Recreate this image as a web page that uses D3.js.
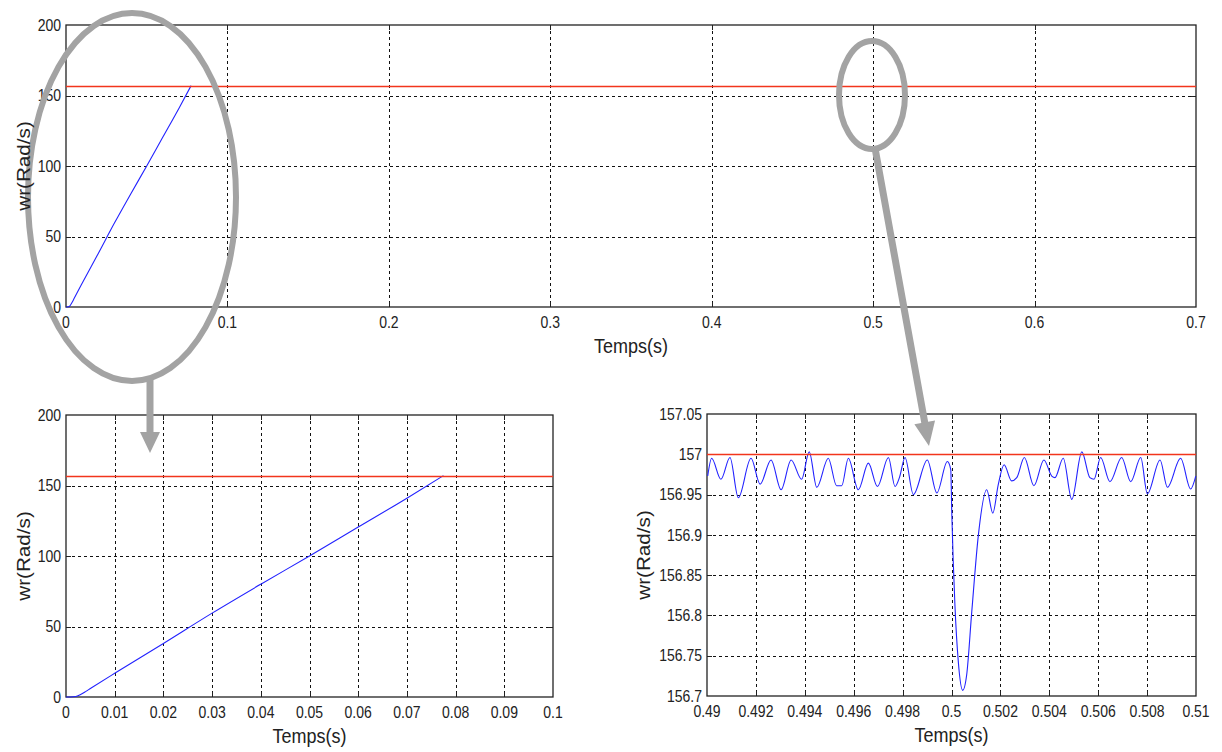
<!DOCTYPE html>
<html>
<head>
<meta charset="utf-8">
<script src="https://cdn.jsdelivr.net/npm/d3@7"></script>
<style>
  html, body { margin: 0; padding: 0; background: #fff; }
  svg { display: block; font-family: "Liberation Sans", Arial, sans-serif; }
</style>
</head>
<body>
<svg id="chart" width="1222" height="752"></svg>
<script>
// ---------- DATA ----------
const refSpeed = 157;

// start-up of the speed (s, rad/s)
const startT = [0, 0.001, 0.002, 0.003, 0.004, 0.005, 0.01, 0.02, 0.03, 0.04, 0.05, 0.06, 0.07, 0.0775];
const startW = [0, 0, 0.3, 1.8, 3.8, 6, 16.8, 38, 59.5, 80, 100, 120.5, 141, 157];

// zoom around t = 0.5 s (s, rad/s)
const zoomT = [0.49003, 0.49019, 0.49057, 0.49094, 0.49128, 0.4918, 0.49217, 0.49262, 0.49303, 0.49344,
  0.49387, 0.49418, 0.49449, 0.49496, 0.4953, 0.49551, 0.49578, 0.49619, 0.4966, 0.49697,
  0.49742, 0.49769, 0.49787, 0.4981, 0.49844, 0.49901, 0.4994, 0.49983, 0.49997,
  0.50001, 0.50014, 0.50028, 0.50046, 0.50062, 0.50083, 0.5011, 0.50144, 0.50169, 0.50191,
  0.50215, 0.50246, 0.50267, 0.50298, 0.50337, 0.50378, 0.5041, 0.50423, 0.50457, 0.50492,
  0.50533, 0.50566, 0.50583, 0.5061, 0.50648, 0.50696, 0.50733, 0.50774, 0.50801, 0.50853,
  0.50883, 0.50937, 0.50978, 0.50999];
const zoomW = [156.973, 156.995, 156.969, 156.996, 156.946, 156.995, 156.963, 156.993, 156.956, 156.993,
  156.969, 157.003, 156.959, 156.995, 156.961, 156.961, 156.995, 156.956, 156.989, 156.960,
  156.996, 156.960, 156.971, 156.996, 156.950, 156.993, 156.952, 156.991, 156.981,
  156.929, 156.813, 156.742, 156.707, 156.726, 156.805, 156.900, 156.956, 156.927, 156.962,
  156.987, 156.967, 156.971, 156.996, 156.961, 156.993, 156.973, 156.971, 156.995, 156.944,
  157.003, 156.971, 156.969, 156.996, 156.966, 156.996, 156.966, 156.996, 156.951, 156.993,
  156.959, 156.995, 156.957, 156.973];

// tick values and labels
const topXTicks = [0, 0.1, 0.2, 0.3, 0.4, 0.5, 0.6, 0.7];
const topXLabels = ["0", "0.1", "0.2", "0.3", "0.4", "0.5", "0.6", "0.7"];
const speedYTicks = [0, 50, 100, 150, 200];
const speedYLabels = ["0", "50", "100", "150", "200"];
const blXTicks = [0, 0.01, 0.02, 0.03, 0.04, 0.05, 0.06, 0.07, 0.08, 0.09, 0.1];
const blXLabels = ["0", "0.01", "0.02", "0.03", "0.04", "0.05", "0.06", "0.07", "0.08", "0.09", "0.1"];
const brXTicks = [0.49, 0.492, 0.494, 0.496, 0.498, 0.5, 0.502, 0.504, 0.506, 0.508, 0.51];
const brXLabels = ["0.49", "0.492", "0.494", "0.496", "0.498", "0.5", "0.502", "0.504", "0.506", "0.508", "0.51"];
const brYTicks = [156.7, 156.75, 156.8, 156.85, 156.9, 156.95, 157, 157.05];
const brYLabels = ["156.7", "156.75", "156.8", "156.85", "156.9", "156.95", "157", "157.05"];

const xTitle = "Temps(s)";
const yTitle = "wr(Rad/s)";

// ---------- DRAW ----------
const svg = d3.select("#chart");
const BLUE = "#2222ff", RED = "#f2351c", INK = "#222";
const SY = 1.15; // vertical stretch of the lettering in the original figure
const titleLayer = [];

function panel(o) {
  const x = d3.scaleLinear().domain(o.xDomain).range([o.left, o.right]);
  const y = d3.scaleLinear().domain(o.yDomain).range([o.bottom, o.top]);
  const g = svg.append("g");

  // grid
  const xg = o.xTicks.slice(1, -1), yg = o.yTicks.slice(1, -1);
  g.selectAll(null).data(xg).join("line")
    .attr("x1", d => Math.round(x(d)) + 0.5).attr("x2", d => Math.round(x(d)) + 0.5)
    .attr("y1", o.top).attr("y2", o.bottom)
    .attr("stroke", "#111").attr("stroke-width", 1).attr("stroke-dasharray", "3,3");
  g.selectAll(null).data(yg).join("line")
    .attr("y1", d => Math.round(y(d)) + 0.5).attr("y2", d => Math.round(y(d)) + 0.5)
    .attr("x1", o.left).attr("x2", o.right)
    .attr("stroke", "#111").attr("stroke-width", 1).attr("stroke-dasharray", "3,3");

  // inner ticks
  const tk = 5;
  g.selectAll(null).data(xg).join("path")
    .attr("d", d => `M${Math.round(x(d)) + 0.5},${o.bottom}v${-tk}M${Math.round(x(d)) + 0.5},${o.top}v${tk}`)
    .attr("stroke", INK);
  g.selectAll(null).data(yg).join("path")
    .attr("d", d => `M${o.left},${Math.round(y(d)) + 0.5}h${tk}M${o.right},${Math.round(y(d)) + 0.5}h${-tk}`)
    .attr("stroke", INK);

  // frame
  g.append("rect")
    .attr("x", o.left).attr("y", o.top)
    .attr("width", o.right - o.left).attr("height", o.bottom - o.top)
    .attr("fill", "none").attr("stroke", INK).attr("stroke-width", 1.3);

  // series
  const line = d3.line().x(d => x(d[0])).y(d => y(d[1])).curve(d3.curveMonotoneX);
  g.append("path").datum(o.xs.map((t, i) => [t, o.ys[i]]))
    .attr("d", line).attr("fill", "none").attr("stroke", BLUE).attr("stroke-width", 1.1);

  // reference
  const yr = Math.round(y(refSpeed)) + 0.5;
  g.append("line")
    .attr("x1", o.left).attr("x2", o.right)
    .attr("y1", yr).attr("y2", yr)
    .attr("stroke", RED).attr("stroke-width", 1.6);

  // tick labels
  g.selectAll(null).data(o.xTicks).join("text")
    .attr("transform", d => `translate(${x(d)},${o.bottom + 21}) scale(1,${SY})`)
    .attr("text-anchor", "middle").attr("font-size", 14).attr("fill", INK)
    .text((d, i) => o.xLabels[i]);
  g.selectAll(null).data(o.yTicks).join("text")
    .attr("transform", d => `translate(${o.left - 5},${y(d) + 5.7}) scale(1,${SY})`)
    .attr("text-anchor", "end").attr("font-size", 14).attr("fill", INK)
    .text((d, i) => o.yLabels[i]);

  // titles (drawn later, above the callouts)
  titleLayer.push(o);
  o.cx = (o.left + o.right) / 2;
}

panel({ left: 66, right: 1196, top: 25, bottom: 307, xDomain: [0, 0.7], yDomain: [0, 200],
  xTicks: topXTicks, xLabels: topXLabels, yTicks: speedYTicks, yLabels: speedYLabels,
  xs: startT, ys: startW, yTitleX: 30 });
panel({ left: 66, right: 553, top: 415, bottom: 697, xDomain: [0, 0.1], yDomain: [0, 200],
  xTicks: blXTicks, xLabels: blXLabels, yTicks: speedYTicks, yLabels: speedYLabels,
  xs: startT, ys: startW, yTitleX: 30 });
panel({ left: 707, right: 1196, top: 414, bottom: 696, xDomain: [0.49, 0.51], yDomain: [156.7, 157.05],
  xTicks: brXTicks, xLabels: brXLabels, yTicks: brYTicks, yLabels: brYLabels,
  xs: zoomT, ys: zoomW, yTitleX: 650 });

// ---------- ANNOTATIONS (zoom callouts) ----------
const GREY = "#a3a3a3";
const ann = svg.append("g");
ann.append("ellipse").attr("cx", 132).attr("cy", 197).attr("rx", 104).attr("ry", 184)
  .attr("fill", "none").attr("stroke", GREY).attr("stroke-width", 6);
ann.append("ellipse").attr("cx", 872).attr("cy", 95).attr("rx", 33).attr("ry", 54)
  .attr("fill", "none").attr("stroke", GREY).attr("stroke-width", 6);

function arrow(x1, y1, x2, y2, shaftW, headL, headW) {
  const dx = x2 - x1, dy = y2 - y1, L = Math.hypot(dx, dy);
  const ux = dx / L, uy = dy / L, px = -uy, py = ux;
  const bx = x2 - ux * headL, by = y2 - uy * headL;
  const pts = [
    [x1 + px * shaftW / 2, y1 + py * shaftW / 2],
    [bx + px * shaftW / 2, by + py * shaftW / 2],
    [bx + px * headW / 2, by + py * headW / 2],
    [x2, y2],
    [bx - px * headW / 2, by - py * headW / 2],
    [bx - px * shaftW / 2, by - py * shaftW / 2],
    [x1 - px * shaftW / 2, y1 - py * shaftW / 2]
  ];
  ann.append("path").attr("d", "M" + pts.map(p => p.join(",")).join("L") + "Z").attr("fill", GREY);
}
arrow(150, 378, 150, 453, 7, 21, 20);
arrow(875, 148, 929, 446, 7, 24, 21);

// ---------- AXIS TITLES ----------
const titles = svg.append("g");
titleLayer.forEach(o => {
  titles.append("text")
    .attr("transform", `translate(${o.cx},${o.bottom + 46}) scale(1,${SY})`)
    .attr("text-anchor", "middle").attr("font-size", 18).attr("fill", INK)
    .text(xTitle);
  titles.append("text")
    .attr("transform", `translate(${o.yTitleX},${(o.top + o.bottom) / 2}) scale(1,${SY}) rotate(-90)`)
    .attr("text-anchor", "middle").attr("font-size", 18).attr("fill", INK)
    .text(yTitle);
});
</script>
</body>
</html>
